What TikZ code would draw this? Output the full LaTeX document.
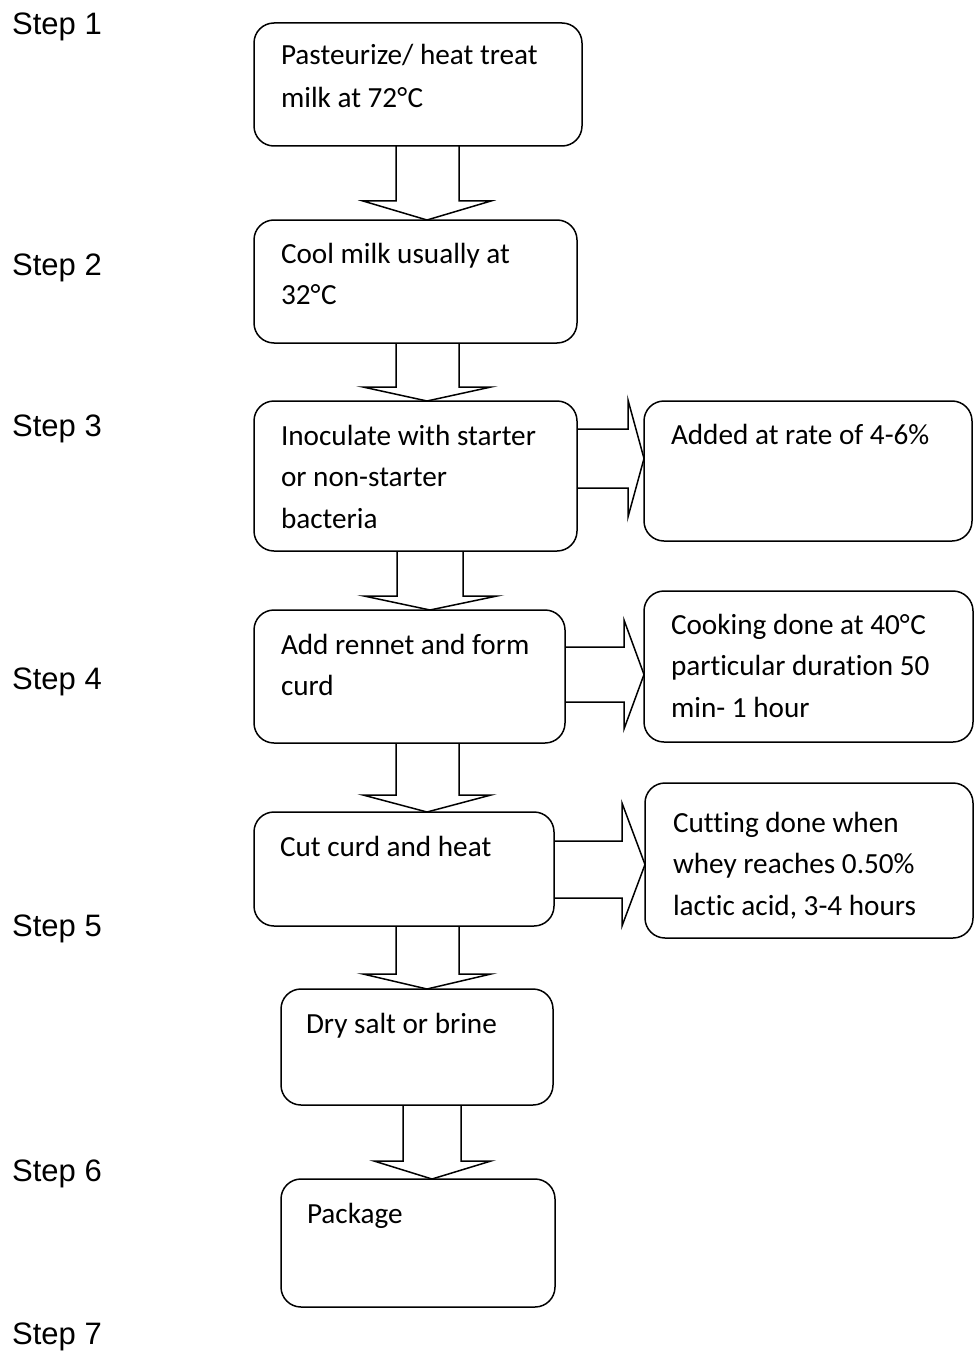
\documentclass[tikz,border=0pt]{standalone}
\usepackage{fontspec}
\newfontfamily\carl[Ligatures=NoCommon]{Carlito}
\newfontfamily\arl{Liberation Sans}
\usetikzlibrary{calc}
\newcommand\bt[5]{\parbox[t][#2pt][t]{#1pt}{\raggedright\leftskip=#3pt\relax\rule{0pt}{#4pt}#5}}
\newcommand\dnarr[8]{\draw[blk] let \p1=(#1.south), \p2=(#2.north) in (#3pt,\y1) -- (#3pt,-#5pt) -- (#6pt,-#5pt) -- (#8pt,\y2) -- (#7pt,-#5pt) -- (#4pt,-#5pt) -- (#4pt,\y1);}
\newcommand\rtarr[8]{\draw[blk] let \p1=(#1.east), \p2=(#2.west) in (\x1,-#3pt) -- (#5pt,-#3pt) -- (#5pt,-#6pt) -- (\x2,-#8pt) -- (#5pt,-#7pt) -- (#5pt,-#4pt) -- (\x1,-#4pt);}
\newcommand\degC{°\kern0.5pt C}
\tikzset{
  stepbox/.style={draw, line width=1.5pt, rounded corners=20pt, inner sep=0pt, outer sep=0pt, anchor=north west, font=\carl\fontsize{29.2}{41.5}\selectfont},
  steplbl/.style={anchor=base west, inner sep=0pt, font=\arl\fontsize{31}{36}\selectfont},
  blk/.style={line width=1.5pt, line join=miter}
}
\begin{document}
\begin{tikzpicture}[x=1pt,y=-1pt]
\useasboundingbox (0,0) rectangle (974,1351);
% step labels
\node[steplbl] (s1) at (12,35) {Step 1};
\node[steplbl] (s2) at (12,275) {Step 2};
\node[steplbl] (s3) at (12,436) {Step 3};
\node[steplbl] (s4) at (12,689) {Step 4};
\node[steplbl] (s5) at (12,936) {Step 5};
\node[steplbl] (s6) at (12,1181) {Step 6};
\node[steplbl] (s7) at (12,1344) {Step 7};
% main boxes
\node[stepbox] (b1) at (254,23) {\bt{328}{123}{27}{42}{\baselineskip=43pt Pasteurize/ heat treat\\milk at 72\degC}};
\node[stepbox] (b2) at (254,220) {\bt{323}{123}{27}{43}{Cool milk usually at\\32\degC}};
\node[stepbox] (b3) at (254,401) {\bt{323}{150}{27}{44}{Inoculate with starter\\or non-starter\\bacteria}};
\node[stepbox] (b4) at (254,610) {\bt{311}{133}{27}{44}{Add rennet and form\\curd}};
\node[stepbox] (b5) at (254,812) {\bt{300}{114}{26}{44}{Cut curd and heat}};
\node[stepbox] (b6) at (281,989) {\bt{272}{116}{25}{44}{Dry salt or brine}};
\node[stepbox] (b7) at (281,1179) {\bt{274}{128}{26}{44}{Package}};
% side boxes
\node[stepbox] (r3) at (644,401) {\bt{328}{140}{27}{43}{Added at rate of 4-6\%}};
\node[stepbox] (r4) at (644,591) {\bt{329}{151}{27}{43}{Cooking done at 40\degC\\particular duration 50\\min- 1 hour}};
\node[stepbox] (r5) at (645,783) {\bt{328}{155}{28}{49}{Cutting done when\\whey reaches 0.50\%\\lactic acid, 3-4 hours}};
% down block arrows
\dnarr{b1}{b2}{396}{459}{201}{363}{491}{427}
\dnarr{b2}{b3}{396}{459}{387}{363}{491}{427}
\dnarr{b3}{b4}{397}{463}{596}{364}{497}{430}
\dnarr{b4}{b5}{396}{459}{795}{363}{491}{427}
\dnarr{b5}{b6}{396}{459}{974}{363}{491}{427}
\dnarr{b6}{b7}{403}{461}{1161}{374}{491}{432}
% right block arrows
\rtarr{b3}{r3}{429}{488}{628}{400}{517}{458.5}
\rtarr{b4}{r4}{647}{702}{624}{620}{729}{674.5}
\rtarr{b5}{r5}{841}{898}{622}{803}{926}{864.5}
\end{tikzpicture}
\end{document}
